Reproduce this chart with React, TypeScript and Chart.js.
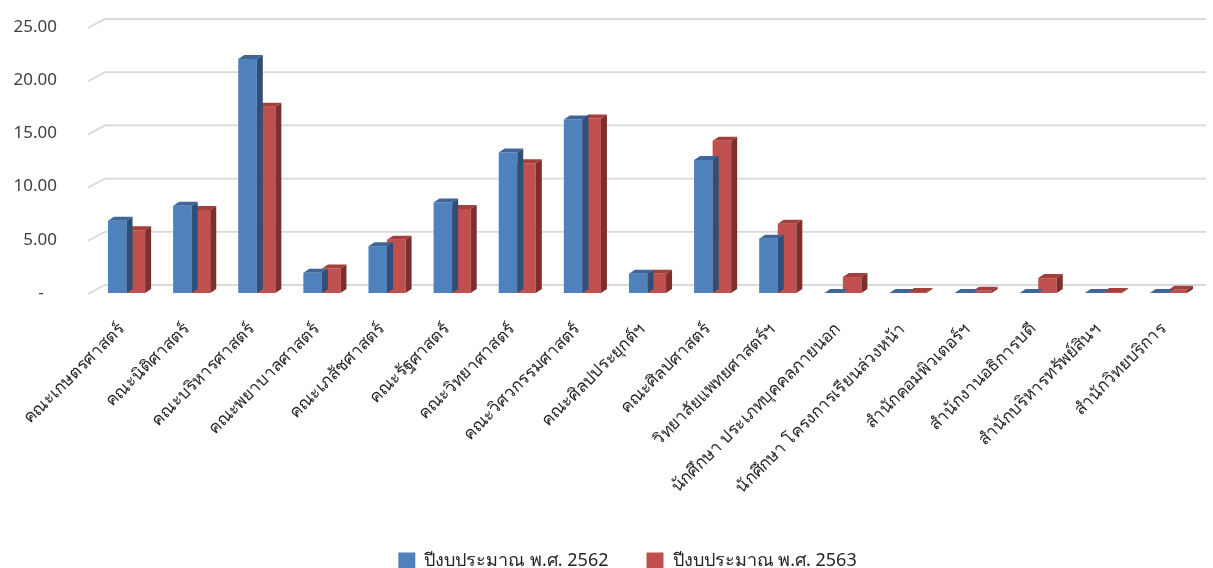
import React, { useEffect, useRef } from "react";
import { Chart, registerables } from "chart.js";

Chart.register(...registerables);

const categories = [
  "คณะเกษตรศาสตร์",
  "คณะนิติศาสตร์",
  "คณะบริหารศาสตร์",
  "คณะพยาบาลศาสตร์",
  "คณะเภสัชศาสตร์",
  "คณะรัฐศาสตร์",
  "คณะวิทยาศาสตร์",
  "คณะวิศวกรรมศาสตร์",
  "คณะศิลปประยุกต์ฯ",
  "คณะศิลปศาสตร์",
  "วิทยาลัยแพทยศาสตร์ฯ",
  "นักศึกษา ประเภทบุคคลภายนอก",
  "นักศึกษา โครงการเรียนล่วงหน้า",
  "สำนักคอมพิวเตอร์ฯ",
  "สำนักงานอธิการบดี",
  "สำนักบริหารทรัพย์สินฯ",
  "สำนักวิทยบริการ",
];

const seriesNames = ["ปีงบประมาณ พ.ศ. 2562", "ปีงบประมาณ พ.ศ. 2563"];
const budget2562 = [6.8, 8.2, 22.0, 1.9, 4.4, 8.5, 13.2, 16.3, 1.8, 12.5, 5.1, 0, 0, 0, 0, 0, 0];
const budget2563 = [5.9, 7.8, 17.5, 2.3, 5.0, 7.9, 12.2, 16.4, 1.8, 14.3, 6.5, 1.5, 0.1, 0.2, 1.4, 0.1, 0.3];
const yTicks = [0, 5, 10, 15, 20, 25];

const FRONT = ["#4F81BD", "#C0504D"];
const TOP = ["#3E6699", "#A33F3C"];
const SIDE = ["#2F4F78", "#7E2F2D"];
const FONT = "'Noto Sans', 'DejaVu Sans', sans-serif";

const bar3d = {
  id: "bar3d",
  afterLayout(chart: any) {
    if (chart.legend) {
      chart.legend.left += 27;
      chart.legend.right += 27;
    }
  },
  beforeDatasetsDraw(chart: any) {
    const { ctx, chartArea } = chart;
    const y = chart.scales.y;
    const x0 = chartArea.left - 6;
    const dx = 17;
    const dy = 9;
    ctx.save();
    ctx.strokeStyle = "#D9D9D9";
    ctx.lineWidth = 1.8;
    yTicks.forEach((v) => {
      const py = y.getPixelForValue(v);
      ctx.beginPath();
      ctx.moveTo(x0, py + 1);
      ctx.lineTo(x0 + dx, py + 1 - dy);
      ctx.lineTo(chartArea.right + 5, py + 1 - dy);
      ctx.stroke();
    });
    ctx.restore();
  },
  afterDatasetDraw(chart: any, args: any) {
    const { ctx } = chart;
    const meta = args.meta;
    const i = args.index;
    const dx = 6;
    const dy = 4;
    ctx.save();
    meta.data.forEach((el: any) => {
      const p = el.getProps(["x", "y", "base", "width"], true);
      const l = p.x - p.width / 2;
      const r = p.x + p.width / 2;
      const t = Math.min(p.y, p.base);
      const b = p.base;
      ctx.fillStyle = TOP[i];
      ctx.beginPath();
      ctx.moveTo(l, t);
      ctx.lineTo(l + dx, t - dy);
      ctx.lineTo(r + dx, t - dy);
      ctx.lineTo(r, t);
      ctx.closePath();
      ctx.fill();
      ctx.fillStyle = SIDE[i];
      ctx.beginPath();
      ctx.moveTo(r, t);
      ctx.lineTo(r + dx, t - dy);
      ctx.lineTo(r + dx, b - dy);
      ctx.lineTo(r, b);
      ctx.closePath();
      ctx.fill();
    });
    ctx.restore();
  },
};

export default function App() {
  const ref = useRef<HTMLCanvasElement>(null);
  useEffect(() => {
    if (!ref.current) return;
    const chart = new Chart(ref.current, {
      type: "bar",
      data: {
        labels: categories,
        datasets: [
          { label: seriesNames[0], data: budget2562, backgroundColor: FRONT[0], borderWidth: 0 },
          { label: seriesNames[1], data: budget2563, backgroundColor: FRONT[1], borderWidth: 0 },
        ],
      },
      options: {
        animation: false,
        responsive: true,
        maintainAspectRatio: false,
        layout: { padding: { top: 27, right: 12, left: 0, bottom: -12 } },
        plugins: {
          legend: {
            position: "bottom",
            labels: {
              boxWidth: 17,
              boxHeight: 17,
              padding: 38,
              color: "#262626",
              font: { family: FONT, size: 18 },
            },
          },
          tooltip: { enabled: false },
        },
        datasets: { bar: { categoryPercentage: 0.57, barPercentage: 1.0 } },
        scales: {
          x: {
            grid: { display: false, drawTicks: false },
            border: { display: false },
            ticks: {
              autoSkip: false,
              minRotation: 45,
              maxRotation: 45,
              labelOffset: -5,
              padding: 26,
              color: "#262626",
              font: { family: FONT, size: 17 },
            },
            afterFit: (axis: any) => {
              axis.height = 221;
              axis.paddingLeft = 0;
              axis.paddingRight = 0;
            },
          },
          y: {
            min: 0,
            max: 25,
            grid: { display: false, drawTicks: false },
            border: { display: false },
            ticks: {
              stepSize: 5,
              padding: 37,
              color: "#404040",
              font: { family: FONT, size: 17 },
              callback: (v: any) => (Number(v) === 0 ? "-   " : Number(v).toFixed(2)),
            },
            afterFit: (axis: any) => {
              axis.width = 94;
              axis.paddingTop = 0;
              axis.paddingBottom = 0;
            },
          },
        },
      },
      plugins: [bar3d],
    });
    return () => chart.destroy();
  }, []);
  return (
    <div style={{ position: "fixed", left: 0, top: 0, width: 1213, height: 568, background: "#fff" }}>
      <canvas ref={ref} />
    </div>
  );
}
